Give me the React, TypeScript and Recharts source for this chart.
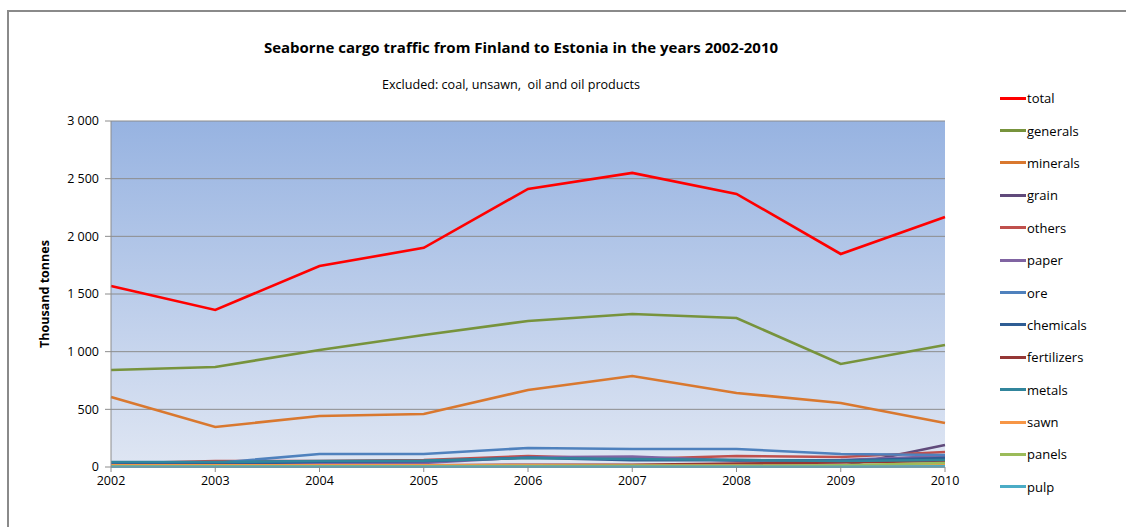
import { CartesianGrid, Legend, Line, LineChart, XAxis, YAxis } from "recharts";

const years = [2002, 2003, 2004, 2005, 2006, 2007, 2008, 2009, 2010];
const yTicks = [0, 500, 1000, 1500, 2000, 2500, 3000];

const total = [1570, 1362, 1743, 1900, 2411, 2550, 2368, 1847, 2168];
const generals = [841, 867, 1015, 1145, 1266, 1327, 1292, 893, 1058];
const minerals = [607, 347, 442, 460, 668, 789, 642, 555, 382];
const grain = [5, 5, 10, 10, 15, 10, 20, 5, 190];
const others = [30, 52, 52, 60, 95, 69, 95, 87, 130];
const paper = [10, 15, 30, 35, 85, 90, 55, 60, 95];
const ore = [35, 35, 113, 113, 165, 156, 156, 113, 104];
const chemicals = [40, 25, 45, 50, 80, 60, 60, 55, 78];
const fertilizers = [15, 15, 15, 15, 20, 20, 30, 40, 52];
const metals = [43, 43, 52, 55, 78, 69, 61, 52, 61];
const sawn = [15, 15, 15, 15, 15, 12, 12, 10, 15];
const panels = [5, 5, 5, 5, 8, 10, 10, 15, 35];
const pulp = [2, 2, 2, 2, 2, 2, 2, 2, 5];

const SERIES: { key: string; values: number[]; color: string }[] = [
  { key: "total", values: total, color: "#ff0000" },
  { key: "generals", values: generals, color: "#77933c" },
  { key: "minerals", values: minerals, color: "#d9782f" },
  { key: "grain", values: grain, color: "#604a7b" },
  { key: "others", values: others, color: "#c0504d" },
  { key: "paper", values: paper, color: "#8064a2" },
  { key: "ore", values: ore, color: "#4f81bd" },
  { key: "chemicals", values: chemicals, color: "#2f5d94" },
  { key: "fertilizers", values: fertilizers, color: "#953735" },
  { key: "metals", values: metals, color: "#31859c" },
  { key: "sawn", values: sawn, color: "#f79646" },
  { key: "panels", values: panels, color: "#9bbb59" },
  { key: "pulp", values: pulp, color: "#4bacc6" }
];

const data = years.map((year, i) => {
  const row: Record<string, number> = { year };
  SERIES.forEach((s) => (row[s.key] = s.values[i]));
  return row;
});

const FONT = "'Open Sans', 'Noto Sans', sans-serif";
const fmt = (v: number) => String(v).replace(/\B(?=(\d{3})+(?!\d))/g, " ");

function LegendList() {
  return (
    <div style={{ fontFamily: FONT, fontSize: 13, color: "#000" }}>
      {SERIES.map((s) => (
        <div key={s.key} style={{ height: 32.4, display: "flex", alignItems: "center" }}>
          <span style={{ display: "inline-block", width: 26, height: 3, background: s.color }} />
          <span style={{ marginLeft: 1 }}>{s.key}</span>
        </div>
      ))}
    </div>
  );
}

export default function App() {
  return (
    <div style={{ position: "absolute", left: 0, top: 0, width: 1126, height: 527, background: "#fff", overflow: "hidden" }}>
      <div
        style={{
          position: "absolute",
          left: 7,
          top: 10,
          width: 1200,
          height: 600,
          borderLeft: "2px solid #8a8a8a",
          borderTop: "2px solid #8a8a8a"
        }}
      />
      <div
        style={{
          position: "absolute",
          left: 0,
          width: 1042,
          top: 37,
          textAlign: "center",
          fontFamily: FONT,
          fontWeight: 700,
          fontSize: 15
        }}
      >
        Seaborne cargo traffic from Finland to Estonia in the years 2002-2010
      </div>
      <div
        style={{
          position: "absolute",
          left: 0,
          width: 1022,
          top: 76,
          textAlign: "center",
          fontFamily: FONT,
          fontSize: 12.6
        }}
      >
        Excluded: coal, unsawn,&nbsp; oil and oil products
      </div>
      <LineChart
        width={1126}
        height={527}
        data={data}
        margin={{ top: 121, right: 71, bottom: 30, left: 31 }}
        style={{ position: "absolute", left: 0, top: 0, fontFamily: FONT }}
      >
        <defs>
          <linearGradient id="plotBg" x1="0" y1="0" x2="0" y2="1">
            <stop offset="0%" stopColor="#97b3e1" />
            <stop offset="100%" stopColor="#dfe6f3" />
          </linearGradient>
        </defs>
        <CartesianGrid fill="url(#plotBg)" vertical={false} stroke="#8c8c8c" strokeWidth={1} />
        <XAxis
          dataKey="year"
          type="number"
          domain={[2002, 2010]}
          ticks={years}
          height={30}
          stroke="#8c8c8c"
          tickSize={5}
          tick={{ fill: "#000", fontSize: 12.5 }}
          tickMargin={4}
        />
        <YAxis
          type="number"
          domain={[0, 3000]}
          ticks={yTicks}
          width={80}
          stroke="#8c8c8c"
          tickSize={6}
          tickMargin={6}
          tickFormatter={fmt}
          tick={{ fill: "#000", fontSize: 12.5 }}
          label={{
            value: "Thousand tonnes",
            angle: -90,
            position: "insideLeft",
            offset: 14,
            style: { fontWeight: 700, fontSize: 12.5, fill: "#000", textAnchor: "middle" }
          }}
        />
        <Legend
          layout="vertical"
          align="right"
          verticalAlign="top"
          content={() => <LegendList />}
          wrapperStyle={{ left: 1000, top: 82, width: 110 }}
        />
        {SERIES.map((s) => (
          <Line
            key={s.key}
            dataKey={s.key}
            stroke={s.color}
            strokeWidth={2.6}
            dot={false}
            isAnimationActive={false}
          />
        ))}
      </LineChart>
    </div>
  );
}
